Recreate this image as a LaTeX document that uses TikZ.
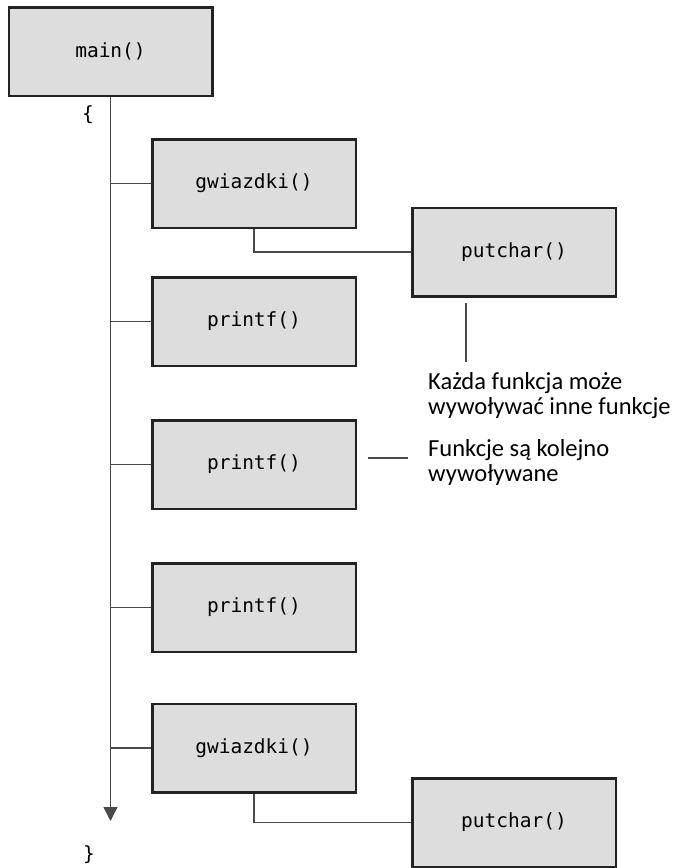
\documentclass[tikz,border=0pt]{standalone}
\usepackage{fontspec}
\setmainfont{Carlito}
\setmonofont{DejaVu Sans Mono}
\usetikzlibrary{arrows.meta}
\definecolor{boxfill}{HTML}{DDDDDD}
\definecolor{boxline}{HTML}{222222}
\definecolor{conn}{HTML}{4A4A4A}
\begin{document}
\begin{tikzpicture}[x=1pt,y=-1pt,
  fbox/.style={draw=boxline,fill=boxfill,line width=2.5pt,minimum width=203.5pt,minimum height=88.5pt,inner sep=0pt,font=\ttfamily\fontsize{19.5}{22}\selectfont},
  conline/.style={draw=conn,line width=1.4pt},
  note/.style={font=\fontsize{24.5}{25}\selectfont,align=left,inner sep=0pt,anchor=north west},
  brace/.style={font=\ttfamily\fontsize{19.5}{22}\selectfont,inner sep=0pt}]
\useasboundingbox (0,0) rectangle (679,868);
\node[fbox] (main) at (110.5,51.5) {main()};
\node[fbox] (gw1) at (254,183.5) {gwiazdki()};
\node[fbox] (pc1) at (514,252) {putchar()};
\node[fbox] (pf1) at (254,321.5) {printf()};
\node[fbox] (pf2) at (254,464.5) {printf()};
\node[fbox] (pf3) at (254,607.5) {printf()};
\node[fbox] (gw2) at (254,748) {gwiazdki()};
\node[fbox] (pc2) at (514,822.5) {putchar()};
\coordinate (end) at (110.5,821);
\node[brace] (ob) at (88,115) {\{};
\node[brace] (cb) at (89,855) {\}};
\draw[conline,-{Triangle[width=14pt,length=14pt]}] (main.south) -- (end);
\foreach \n in {gw1,pf1,pf2,pf3,gw2}{
  \draw[conline] (\n.west) -- (\n.west -| end);
}
\draw[conline] (gw1.south) |- (pc1.west);
\draw[conline] (gw2.south) |- (pc2.west);
\coordinate (a1) at (466,303);
\coordinate (a2) at (466,362);
\draw[conline] (a1) -- (a2);
\coordinate (b1) at (368,458);
\coordinate (b2) at (408,458);
\draw[conline] (b1) -- (b2);
\node[note] (t1) at (428,372) {Każda funkcja może\\wywoływać inne funkcje};
\node[note] (t2) at (428,439) {Funkcje są kolejno\\wywoływane};
\end{tikzpicture}
\end{document}
